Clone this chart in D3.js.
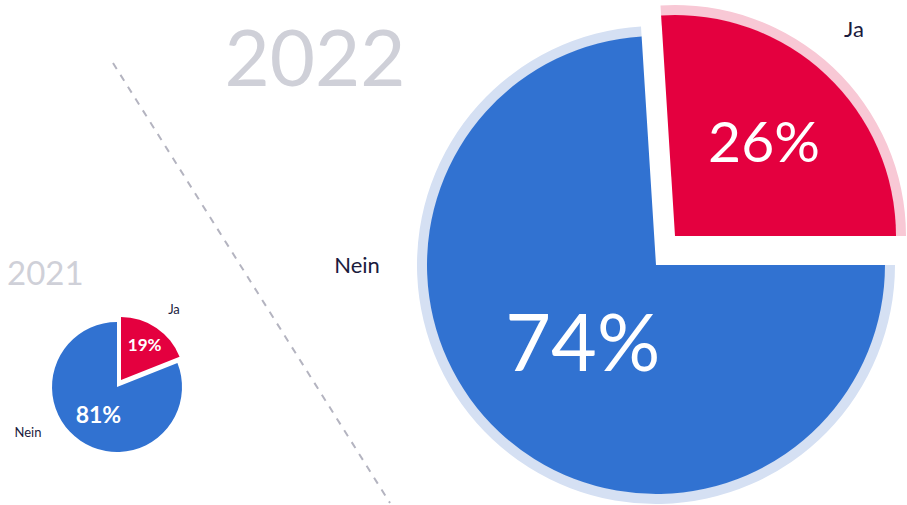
<!DOCTYPE html>
<html>
<head>
<meta charset="utf-8">
<script src="https://cdn.jsdelivr.net/npm/d3@7"></script>
<style>
  html, body { margin: 0; padding: 0; background: #fff; }
  svg { display: block; font-family: Lato, "Open Sans", sans-serif; }
</style>
</head>
<body>
<svg id="chart" width="907" height="505"></svg>
<script>
// data
var categories = ["Ja", "Nein"];
var values2021 = [19, 81];
var values2022 = [26, 74];
var yearLabels = ["2021", "2022"];

var colors = ["#e4003f", "#3172d1"];
var ringColors = ["#f8c8d5", "#d5e0f3"];
var textDark = "#1b1b3d";
var yearColor = "#cfd0d8";

var svg = d3.select("#chart");

// dashed divider
svg.append("line")
    .attr("x1", 113).attr("y1", 63)
    .attr("x2", 390).attr("y2", 503)
    .attr("stroke", "#b4b4c0")
    .attr("stroke-width", 2)
    .attr("stroke-dasharray", "7,7");

// layout for each pie (positions only, values come from arrays above)
var pies = [
  {
    values: values2021, year: yearLabels[0],
    cx: 117, cy: 387, radius: [63, 65], ring: 0,
    alignEnd: false, explode: [4, -7],
    pctRadius: [42, 33], pctSize: [17, 23], pctWeight: 700,
    labelPos: [[174, 314], [28, 437]], labelSize: 13, labelAnchor: ["middle", "middle"],
    yearPos: [7, 285], yearSize: 33, yearAnchor: "start"
  },
  {
    values: values2022, year: yearLabels[1],
    cx: 656, cy: 265, radius: [221, 229], ring: 10,
    alignEnd: true, explode: [19, -29],
    pctRadius: [130, 107], pctSize: [57, 79], pctWeight: 400,
    labelPos: [[854, 37], [357, 273]], labelSize: 22, labelAnchor: ["middle", "middle"],
    yearPos: [315, 86], yearSize: 78, yearAnchor: "middle"
  }
];

pies.forEach(function(p) {
  var total = d3.sum(p.values);
  var start = p.alignEnd ? Math.PI / 2 - 2 * Math.PI * p.values[0] / total : 0;

  var pie = d3.pie().sort(null)
      .startAngle(start)
      .endAngle(start + 2 * Math.PI);
  var arcs = pie(p.values);

  var g = svg.append("g");

  arcs.forEach(function(a, i) {
    var off = i === 0 ? p.explode : [0, 0];
    var cx = p.cx + off[0], cy = p.cy + off[1];
    var r = p.radius[i];
    var sg = g.append("g").attr("transform", "translate(" + cx + "," + cy + ")");

    if (p.ring > 0) {
      sg.append("path")
        .attr("d", d3.arc().innerRadius(r - 0.5).outerRadius(r + p.ring)(a))
        .attr("fill", ringColors[i]);
    }
    sg.append("path")
      .attr("d", d3.arc().innerRadius(0).outerRadius(r)(a))
      .attr("fill", colors[i]);

    var mid = (a.startAngle + a.endAngle) / 2;
    var lr = p.pctRadius[i];
    var fs = p.pctSize[i];
    sg.append("text")
      .attr("x", lr * Math.sin(mid))
      .attr("y", -lr * Math.cos(mid) + fs * 0.36)
      .attr("text-anchor", "middle")
      .attr("fill", "#fff")
      .attr("font-size", fs)
      .attr("font-weight", p.pctWeight)
      .text(p.values[i] + "%");

    svg.append("text")
      .attr("x", p.labelPos[i][0])
      .attr("y", p.labelPos[i][1])
      .attr("text-anchor", p.labelAnchor[i])
      .attr("fill", textDark)
      .attr("font-size", p.labelSize)
      .text(categories[i]);
  });

  svg.append("text")
    .attr("x", p.yearPos[0])
    .attr("y", p.yearPos[1])
    .attr("text-anchor", p.yearAnchor)
    .attr("fill", yearColor)
    .attr("font-size", p.yearSize)
    .attr("font-weight", 400)
    .text(p.year);
});
</script>
</body>
</html>
